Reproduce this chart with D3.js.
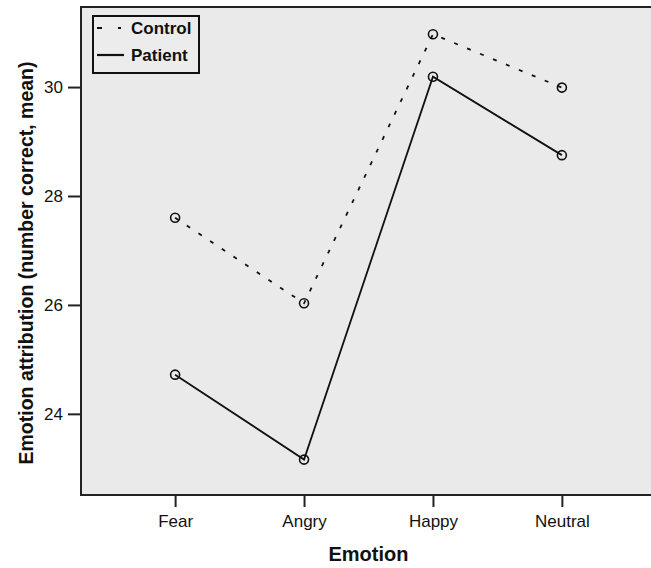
<!DOCTYPE html>
<html>
<head>
<meta charset="utf-8">
<script src="https://cdn.jsdelivr.net/npm/d3@7"></script>
<style>
  body { margin: 0; background: #fff; }
  svg { display: block; font-family: "Liberation Sans", Arial, sans-serif; }
</style>
</head>
<body>
<div id="plot"></div>
<script>
var emotions = ["Fear", "Angry", "Happy", "Neutral"];
var control = [27.6, 26.03, 30.97, 29.99];
var patient = [24.72, 23.16, 30.19, 28.75];
var yTicks = [24, 26, 28, 30];

var margin = { top: 7, right: -5, bottom: 73, left: 81 }
    , width = 651 - margin.left - margin.right
    , height = 568 - margin.top - margin.bottom;

var svg = d3.select("#plot").append("svg")
    .attr("width", 651)
    .attr("height", 568);

var g = svg.append("g")
    .attr("transform", "translate(" + margin.left + "," + margin.top + ")");

var xScale = d3.scalePoint()
    .domain(emotions)
    .range([0, width])
    .padding(0.73);

var yScale = d3.scaleLinear()
    .domain([22.51, 31.47])
    .range([height, 0]);

// plot background + frame
g.append("rect")
    .attr("width", width)
    .attr("height", height)
    .attr("fill", "#eaeaea")
    .attr("stroke", "#222")
    .attr("stroke-width", 2);

var yAxis = d3.axisLeft(yScale).tickValues(yTicks).tickSize(13).tickSizeOuter(0).tickPadding(5),
    xAxis = d3.axisBottom(xScale).tickSize(12).tickSizeOuter(0).tickPadding(8);

var yAxisDraw = g.append("g").call(yAxis);
var xAxisDraw = g.append("g")
    .attr("transform", "translate(0," + height + ")")
    .call(xAxis);

[yAxisDraw, xAxisDraw].forEach(function (a) {
    a.select(".domain").remove();
    a.selectAll(".tick line").attr("stroke", "#222").attr("stroke-width", 2);
    a.selectAll(".tick text")
        .attr("fill", "#111")
        .style("font-size", "17px")
        .style("font-family", "'Liberation Sans', Arial, sans-serif");
});

var plotLine = d3.line()
    .x(function (d, i) { return xScale(emotions[i]); })
    .y(function (d) { return yScale(d); });

var series = [
    { name: "Control", values: control, dash: "4,10" },
    { name: "Patient", values: patient, dash: null }
];

series.forEach(function (s) {
    g.append("path")
        .datum(s.values)
        .attr("d", plotLine)
        .attr("fill", "none")
        .attr("stroke", "#111")
        .attr("stroke-width", 1.8)
        .attr("stroke-dasharray", s.dash);

    g.selectAll(null)
        .data(s.values)
        .enter().append("circle")
        .attr("cx", function (d, i) { return xScale(emotions[i]); })
        .attr("cy", function (d) { return yScale(d); })
        .attr("r", 4.5)
        .attr("fill", "none")
        .attr("stroke", "#111")
        .attr("stroke-width", 1.6);
});

// legend
var legend = svg.append("g").attr("transform", "translate(93,16)");
legend.append("rect")
    .attr("width", 106)
    .attr("height", 57)
    .attr("fill", "#ececec")
    .attr("stroke", "#111")
    .attr("stroke-width", 2);

series.forEach(function (s, i) {
    var row = legend.append("g").attr("transform", "translate(0," + (12 + i * 27) + ")");
    row.append("line")
        .attr("x1", 4).attr("x2", 31)
        .attr("stroke", "#111")
        .attr("stroke-width", 2.2)
        .attr("stroke-dasharray", s.dash ? "5,16,3,10" : null);
    row.append("text")
        .attr("x", 38)
        .attr("y", 6)
        .attr("fill", "#111")
        .style("font-size", "17px")
        .style("font-weight", "bold")
        .text(s.name);
});

// axis titles
svg.append("text")
    .attr("x", margin.left + width / 2)
    .attr("y", 561)
    .attr("text-anchor", "middle")
    .style("font-size", "20px")
    .style("font-weight", "bold")
    .attr("fill", "#111")
    .text("Emotion");

svg.append("text")
    .attr("transform", "translate(33," + (margin.top + height / 2 + 12) + ") rotate(-90)")
    .attr("text-anchor", "middle")
    .style("font-size", "19.5px")
    .style("font-weight", "bold")
    .attr("fill", "#111")
    .text("Emotion attribution (number correct, mean)");
</script>
</body>
</html>
